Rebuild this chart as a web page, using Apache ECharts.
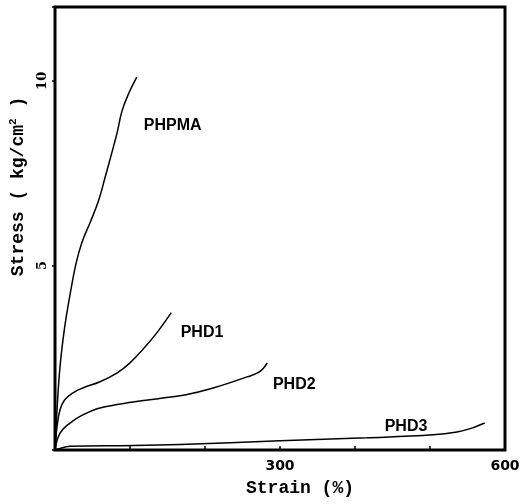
<!DOCTYPE html>
<html>
<head>
<meta charset="utf-8">
<script src="https://cdn.jsdelivr.net/npm/echarts@6/dist/echarts.min.js"></script>
<style>html,body{margin:0;padding:0;background:#fff}#c{width:526px;height:504px}</style>
</head>
<body>
<div id="c"></div>
<script>
// Strain (%) , Stress (kg/cm^2)
const phpma = [[0,0],[2.7,1.09],[6.7,2.26],[13,3.34],[20,4.2],[28,5.05],[36,5.63],[47,6.17],[58,6.75],[67,7.4],[76,8.07],[83,8.61],[89,9.16],[97,9.6],[109,10.1]];
const phd1 = [[0,0],[2.7,0.63],[6.7,1.09],[13,1.36],[24,1.55],[37,1.68],[60,1.85],[83,2.09],[100,2.36],[117,2.72],[136,3.18],[155,3.72]];
const phd2 = [[0,0],[6.7,0.46],[20,0.73],[37,0.95],[60,1.14],[104,1.30],[144,1.41],[173,1.49],[211,1.68],[256,1.98],[273,2.12],[283,2.36]];
const phd3 = [[0,0],[3,0.02],[20,0.1],[104,0.12],[167,0.15],[300,0.25],[416,0.33],[504,0.41],[536,0.49],[557,0.6],[573,0.73]];
const seriesNames = ['PHPMA','PHD1','PHD2','PHD3'];
const labelAnchors = [[157,8.78],[196,3.18],[319,1.77],[468,0.63]];
const xTickLabels = [300, 600];
const yTickLabels = [5, 10];

const allData = [phpma, phd1, phd2, phd3];
const chart = echarts.init(document.getElementById('c'), null, {renderer:'canvas'});
chart.setOption({
  animation:false,
  backgroundColor:'#fff',
  grid:{left:55,right:21,top:7,bottom:54,show:true,borderColor:'#000',borderWidth:3},
  xAxis:{type:'value',min:0,max:600,interval:100,
    axisLine:{show:false},
    axisTick:{show:true,inside:true,length:4,lineStyle:{color:'#000',width:1.5}},
    splitLine:{show:false},
    axisLabel:{margin:9,color:'#000',fontFamily:'DejaVu Sans',fontWeight:'bold',fontSize:14,
      formatter:v=>xTickLabels.includes(v)?String(v):''},
    name:'Strain (%)',nameLocation:'middle',nameGap:29,
    nameTextStyle:{color:'#000',fontFamily:'Liberation Mono',fontWeight:'bold',fontSize:18,padding:[0,0,0,40]}
  },
  yAxis:{type:'value',min:0,max:12,interval:5,
    axisLine:{show:false},
    axisTick:{show:true,inside:false,length:3,lineStyle:{color:'#000',width:1.5}},
    splitLine:{show:false},
    axisLabel:{rotate:90,margin:6,color:'#000',fontFamily:'DejaVu Serif',fontWeight:'bold',fontSize:13,
      formatter:v=>yTickLabels.includes(v)?String(v):''},
    name:'Stress ( kg/cm{sup|2} )',nameLocation:'middle',nameGap:27,nameRotate:90,
    nameTextStyle:{color:'#000',fontFamily:'Liberation Mono',fontWeight:'bold',fontSize:18,padding:[0,0,0,84],
      rich:{sup:{fontFamily:'Liberation Mono',fontWeight:'bold',fontSize:11,padding:[0,0,9,0],color:'#000'}}}
  },
  series: allData.map((d,i)=>({
    type:'line',name:seriesNames[i],data:d,smooth:0.4,showSymbol:false,
    lineStyle:{color:'#000',width:1.5},
    markPoint:{symbol:'circle',symbolSize:0,silent:true,
      data:[{coord:labelAnchors[i],value:seriesNames[i]}],
      label:{show:true,position:'inside',formatter:seriesNames[i],color:'#000',
        fontFamily:'Liberation Sans',fontWeight:'bold',fontSize:16}}
  }))
});
</script>
</body>
</html>
